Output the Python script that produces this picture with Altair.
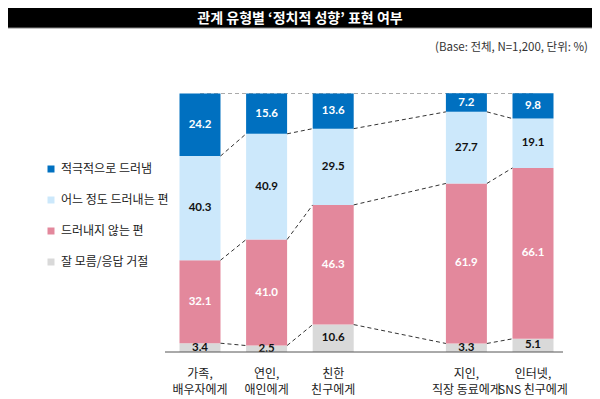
import altair as alt
import pandas as pd

# ---- data ----
categories = ["가족,\n배우자에게", "연인,\n애인에게", "친한\n친구에게", "지인,\n직장 동료에게", "인터넷,\nSNS 친구에게"]
slots = [0, 1, 2, 4, 5]
segments = ["적극적으로 드러냄", "어느 정도 드러내는 편", "드러내지 않는 편", "잘 모름/응답 거절"]
active = [24.2, 15.6, 13.6, 7.2, 9.8]
somewhat = [40.3, 40.9, 29.5, 27.7, 19.1]
hidden = [32.1, 41.0, 46.3, 61.9, 66.1]
unknown = [3.4, 2.5, 10.6, 3.3, 5.1]
seg_colors = ["#0070C0", "#CCE8FB", "#E3889C", "#D9D9D9"]
label_colors = ["white", "#111111", "white", "#111111"]
title_text = "관계 유형별 ‘정치적 성향’ 표현 여부"
subtitle_text = "(Base: 전체, N=1,200, 단위: %)"

# ---- tables built from the arrays ----
rows = []
bounds = []
for i in range(len(categories)):
    stack_vals = [(3, unknown[i]), (2, hidden[i]), (1, somewhat[i]), (0, active[i])]
    cum = 0.0
    b = []
    for k, v in stack_vals:
        rows.append({
            "cat": categories[i], "slot": slots[i], "seg": segments[k],
            "val": v, "y0": cum, "y1": cum + v, "mid": cum + v / 2,
            "tcolor": label_colors[k],
        })
        cum += v
        b.append(cum)
    bounds.append(b)
bars = pd.DataFrame(rows)

conn = []
for i in range(len(categories) - 1):
    for k in range(3):
        conn.append({"x": slots[i], "x2": slots[i + 1], "y": bounds[i][k], "y2": bounds[i + 1][k]})
conn = pd.DataFrame(conn)

cats = pd.DataFrame({"cat": categories, "slot": slots})
top_df = pd.DataFrame({"x": [slots[0]], "x2": [slots[-1]], "y": [100.0]})
base_df = pd.DataFrame({"x": [slots[0]], "x2": [slots[-1]], "y": [0.0]})
one = pd.DataFrame({"a": [0]})

W, H = 584, 391
xs = alt.Scale(domain=[0, 5], range=[187, 530])
ys = alt.Scale(domain=[0, 100], range=[344, 85.5])
FONT = "Noto Sans CJK KR"

top_line = alt.Chart(top_df).mark_rule(color="#AAAAAA", strokeDash=[4, 3], strokeWidth=1.2).encode(
    x=alt.X("x:Q", scale=xs, axis=None), x2="x2:Q",
    y=alt.Y("y:Q", scale=ys, axis=None)
)

bar = alt.Chart(bars).mark_bar(size=41).encode(
    x=alt.X("slot:Q", scale=xs, axis=None),
    y=alt.Y("y0:Q", scale=ys, axis=None),
    y2="y1:Q",
    color=alt.Color("seg:N", scale=alt.Scale(domain=segments, range=seg_colors),
                    legend=alt.Legend(title=None, orient="none", legendX=37, legendY=155,
                                      symbolType="square", symbolSize=49, symbolStrokeWidth=0,
                                      labelFontSize=12, labelFont=FONT, labelColor="#222222",
                                      labelOffset=4, rowPadding=19, labelLimit=300)),
)

connectors = alt.Chart(conn).mark_rule(color="#333333", strokeDash=[4, 3], strokeWidth=1,
                                       xOffset=20.5, x2Offset=-20.5).encode(
    x=alt.X("x:Q", scale=xs, axis=None), x2="x2:Q",
    y=alt.Y("y:Q", scale=ys, axis=None), y2="y2:Q"
)

values = alt.Chart(bars).mark_text(font="Lato", fontWeight="bold", fontSize=11.5, baseline="middle").encode(
    x=alt.X("slot:Q", scale=xs, axis=None), y=alt.Y("mid:Q", scale=ys, axis=None),
    text=alt.Text("val:Q", format=".1f"),
    color=alt.Color("tcolor:N", scale=None),
)

axis_line = alt.Chart(base_df).mark_rule(color="#555555", strokeWidth=1, xOffset=-35, x2Offset=30).encode(
    x=alt.X("x:Q", scale=xs, axis=None), x2="x2:Q", y=alt.Y("y:Q", scale=ys, axis=None)
)

cat_labels = alt.Chart(cats).mark_text(font=FONT, fontSize=12, color="#222222", baseline="middle",
                                       lineBreak="\n", lineHeight=15.5).encode(
    x=alt.X("slot:Q", scale=xs, axis=None), y=alt.value(366), text="cat:N"
)

title_bar = alt.Chart(one).mark_rect(color="black", stroke="#888888", strokeWidth=1).encode(
    x=alt.value(-1), x2=alt.value(W + 1), y=alt.value(-1), y2=alt.value(20)
)
title = alt.Chart(one).mark_text(text=title_text, font=FONT, fontSize=14, fontWeight="bold",
                                 color="white", baseline="middle", align="center").encode(
    x=alt.value(W / 2), y=alt.value(11)
)
subtitle = alt.Chart(one).mark_text(text=subtitle_text, font=FONT, fontSize=11.5, color="#333333",
                                    baseline="middle", align="right").encode(
    x=alt.value(580), y=alt.value(40)
)

chart = alt.layer(title_bar, title, subtitle, top_line, bar, connectors, values, axis_line, cat_labels).properties(
    width=W, height=H, autosize="none", padding=0
).configure_view(stroke=None)

chart.save("out.html", embed_options={"renderer": "svg", "actions": False})
